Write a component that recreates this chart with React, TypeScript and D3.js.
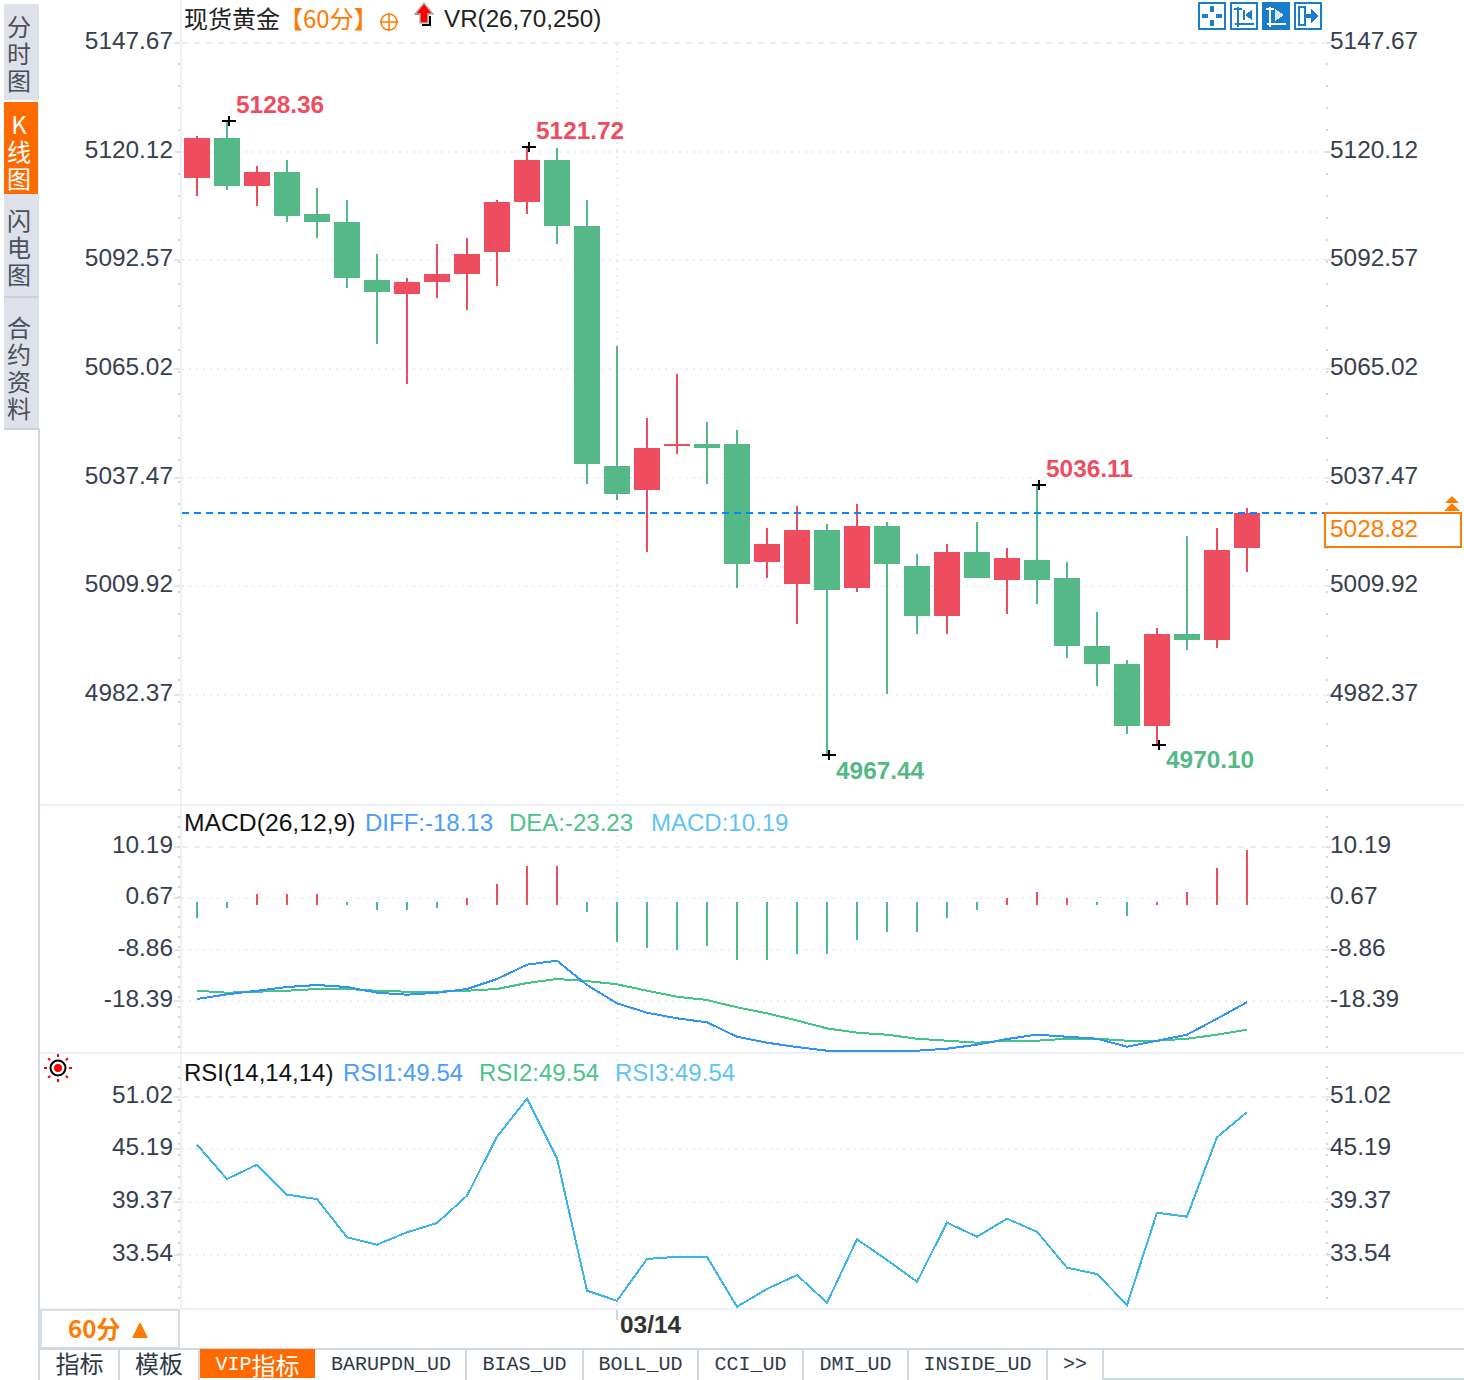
import * as React from 'react';
import * as d3 from 'd3';

const opens = [5113.82, 5123.96, 5111.79, 5115.34, 5104.69, 5102.66, 5087.96, 5084.41, 5087.45, 5089.48, 5095.06, 5107.73, 5118.38, 5101.65, 5040.8, 5034.71, 5045.87, 5046.37, 5046.37, 5016.45, 5010.88, 5024.57, 5009.86, 5025.58, 5015.44, 5002.76, 5018.99, 5011.89, 5016.96, 5012.4, 4995.16, 4990.59, 4974.87, 4998.2, 4996.68, 5020.0];
const closes = [5123.96, 5111.79, 5115.34, 5104.18, 5102.66, 5088.46, 5084.91, 5087.45, 5089.48, 5094.55, 5107.73, 5118.38, 5101.65, 5041.3, 5033.7, 5045.36, 5046.37, 5045.36, 5015.95, 5021.02, 5024.57, 5009.36, 5025.58, 5015.95, 5002.76, 5018.99, 5012.4, 5017.47, 5011.89, 4995.16, 4990.59, 4974.87, 4998.2, 4996.68, 5019.5, 5028.82];
const highs = [5124.47, 5128.36, 5116.86, 5118.38, 5111.28, 5108.24, 5094.55, 5088.46, 5097.08, 5098.61, 5108.24, 5121.72, 5121.42, 5108.24, 5071.22, 5052.97, 5064.12, 5051.95, 5049.92, 5025.08, 5030.65, 5026.09, 5031.16, 5026.6, 5018.48, 5021.02, 5026.6, 5020.0, 5036.11, 5016.45, 5003.78, 4991.61, 4999.72, 5023.05, 5025.08, 5030.15];
const lows = [5109.25, 5110.78, 5106.72, 5102.66, 5098.61, 5085.93, 5071.73, 5061.59, 5083.39, 5080.35, 5086.43, 5104.69, 5097.08, 5036.23, 5032.17, 5018.99, 5043.84, 5036.23, 5009.86, 5012.4, 5000.73, 4967.44, 5008.85, 4982.99, 4998.2, 4998.2, 5012.4, 5003.27, 5005.81, 4992.11, 4985.01, 4972.84, 4970.1, 4994.14, 4994.65, 5013.92];

const macdBars = [-2.51, -0.65, 1.95, 1.95, 1.95, -0.05, -1.02, -1.02, -0.65, 1.21, 3.8, 7.15, 7.15, -1.39, -6.96, -8.07, -8.44, -7.7, -10.3, -10.3, -9.19, -9.19, -6.59, -5.1, -5.1, -2.51, -1.02, 1.21, 2.32, 1.21, -0.05, -2.13, 0.46, 2.32, 6.77, 10.19];
const diffLine = [-17.54, -16.67, -16.0, -15.31, -14.94, -15.31, -16.37, -16.74, -16.37, -15.68, -13.83, -11.17, -10.43, -14.94, -18.34, -20.08, -21.12, -21.86, -24.54, -25.65, -26.45, -27.13, -27.13, -27.13, -27.13, -26.76, -26.02, -24.96, -24.16, -24.54, -24.91, -26.39, -25.28, -24.16, -21.2, -18.13];
const deaLine = [-16.0, -16.37, -16.18, -16.0, -15.68, -15.68, -16.0, -16.18, -16.18, -16.0, -15.68, -14.57, -13.83, -14.2, -14.81, -16.0, -17.11, -17.72, -19.08, -20.19, -21.53, -23.0, -23.79, -24.16, -24.91, -25.28, -25.65, -25.28, -25.28, -24.91, -24.91, -25.28, -25.28, -24.91, -24.16, -23.23];
const rsiLine = [45.94, 42.15, 43.73, 40.42, 39.94, 35.72, 34.9, 36.27, 37.29, 40.31, 46.82, 51.02, 44.44, 29.82, 28.71, 33.32, 33.57, 33.57, 28.05, 30.01, 31.55, 28.49, 35.49, 33.21, 30.81, 37.33, 35.78, 37.77, 36.33, 32.36, 31.66, 28.24, 38.43, 37.99, 46.76, 49.54];

const priceTicks = [5147.67, 5120.12, 5092.57, 5065.02, 5037.47, 5009.92, 4982.37];
const macdTicks = [10.19, 0.67, -8.86, -18.39];
const rsiTicks = [51.02, 45.19, 39.37, 33.54];
const lastPrice = 5028.82;
const extremes = [
  { index: 1, value: 5128.36, kind: 'high' },
  { index: 11, value: 5121.72, kind: 'high' },
  { index: 28, value: 5036.11, kind: 'high' },
  { index: 21, value: 4967.44, kind: 'low' },
  { index: 32, value: 4970.1, kind: 'low' },
];
const sideTabs = [
  { label: '分时图', top: 4, bottom: 100, textTop: 15 },
  { label: 'K线图', top: 102, bottom: 194, textTop: 113, active: true },
  { label: '闪电图', top: 194, bottom: 296, textTop: 209 },
  { label: '合约资料', top: 298, bottom: 428, textTop: 316 },
];
const bottomTabs = [
  { label: '指标', left: 40, right: 119 },
  { label: '模板', left: 119, right: 199 },
  { label: 'VIP', extra: '指标', left: 200, right: 315, active: true },
  { label: 'BARUPDN_UD', left: 316, right: 466 },
  { label: 'BIAS_UD', left: 466, right: 583 },
  { label: 'BOLL_UD', left: 583, right: 698 },
  { label: 'CCI_UD', left: 698, right: 803 },
  { label: 'DMI_UD', left: 803, right: 908 },
  { label: 'INSIDE_UD', left: 908, right: 1047 },
  { label: '>>', left: 1047, right: 1103 },
];

const RED = '#ed4d5f';
const GREEN = '#54b987';
const ORANGE = '#ff7a00';
const ICON = '#1a7dcc';
const GRID = '#eceff2';
const FRAME = '#edf1f5';
const BORDER = '#cfd8e0';
const LABEL = '#36404f';
const SANS = '"Liberation Sans", Arial, sans-serif';
const CJK = '"Noto Sans CJK SC", sans-serif';
const MONO = '"Liberation Mono", monospace';
const TEXT_SIZE = 24.4;
const LEGEND_SIZE = 24;

const x = d3.scalePoint<number>().domain(d3.range(opens.length)).range([197, 1247]);
const priceY = d3.scaleLinear().domain([5147.67, 4982.37]).range([44.5, 696.5]);
const macdY = d3.scaleLinear().domain([10.19, -18.39]).range([849.6, 1003.6]);
const rsiY = d3.scaleLinear().domain([51.02, 33.54]).range([1098.7, 1257]);

function seriesPath(values: number[], y: (v: number) => number) {
  return d3.line<number>().x((_, i) => x(i) as number).y((d) => y(d))(values) as string;
}

function AxisRows({ ticks, y, shift, dots }: { ticks: number[]; y: (v: number) => number; shift: number; dots: number[] }) {
  return (
    <g>
      {dots.map((d) => (
        <g key={d} fill="#d3d9e0">
          <rect x={178} y={d} width={2} height={2} />
          <rect x={1326} y={d} width={2} height={2} />
        </g>
      ))}
      {ticks.map((t, i) => {
        const gy = Math.round(y(t) - shift);
        return (
          <g key={t}>
            <line x1={182} x2={1325} y1={gy} y2={gy} stroke={GRID} strokeWidth={2} strokeDasharray={i === 0 ? '6 6' : '2 5'} />
            <line x1={174} x2={180} y1={gy} y2={gy} stroke="#d9dde2" strokeWidth={1.5} />
            <line x1={1326} x2={1331} y1={gy} y2={gy} stroke="#d9dde2" strokeWidth={1.5} />
            <text x={173} y={gy - 3} textAnchor="end" dominantBaseline="central" fontSize={TEXT_SIZE} fill={LABEL}>{t.toFixed(2)}</text>
            <text x={1330} y={gy - 3} dominantBaseline="central" fontSize={TEXT_SIZE} fill={LABEL}>{t.toFixed(2)}</text>
          </g>
        );
      })}
    </g>
  );
}

function Candles() {
  return (
    <g shapeRendering="crispEdges">
      {opens.map((o, i) => {
        const c = closes[i];
        const up = c >= o;
        const color = up ? RED : GREEN;
        const cx = x(i) as number;
        const top = priceY(Math.max(o, c));
        const bottom = priceY(Math.min(o, c));
        return (
          <g key={i} fill={color}>
            <rect x={cx - 1} y={priceY(highs[i])} width={2} height={priceY(lows[i]) - priceY(highs[i])} />
            <rect x={cx - 13} y={top} width={26} height={Math.max(2, bottom - top)} />
          </g>
        );
      })}
    </g>
  );
}

function Extremes() {
  return (
    <g>
      {extremes.map((e) => {
        const cx = x(e.index) as number;
        const cy = priceY(e.value);
        const high = e.kind === 'high';
        return (
          <g key={e.index}>
            <g stroke="#000" strokeWidth={2} shapeRendering="crispEdges">
              <line x1={cx - 5} x2={cx + 9} y1={cy} y2={cy} />
              <line x1={cx + 2} x2={cx + 2} y1={cy - 5} y2={cy + 5} />
            </g>
            <text x={cx + 9} y={cy + (high ? -16 : 15)} dominantBaseline="central" fontSize={TEXT_SIZE} fontWeight="bold" fill={high ? RED : GREEN}>
              {e.value.toFixed(2)}
            </text>
          </g>
        );
      })}
    </g>
  );
}

function MacdPane() {
  const zero = macdY(0);
  return (
    <g>
      <g shapeRendering="crispEdges">
        {macdBars.map((v, i) => {
          const cx = x(i) as number;
          const y = macdY(v);
          return v >= 0
            ? <rect key={i} x={cx - 1} y={y} width={2} height={zero - y} fill={RED} />
            : <rect key={i} x={cx - 1} y={zero - 2.5} width={2} height={y - zero + 2.5} fill="#4dbb85" />;
        })}
      </g>
      <path d={seriesPath(deaLine, macdY)} fill="none" stroke="#45c488" strokeWidth={2} shapeRendering="crispEdges" />
      <path d={seriesPath(diffLine, macdY)} fill="none" stroke="#3193f5" strokeWidth={2} shapeRendering="crispEdges" />
    </g>
  );
}

function SideTabs() {
  return (
    <g>
      {sideTabs.map((t) => (
        <g key={t.top}>
          <rect x={4} y={t.top} width={t.active ? 34 : 35} height={t.bottom - t.top} fill={t.active ? '#ff6a00' : '#dfe1ea'} />
          <text x={19} y={t.textTop} dominantBaseline="central" fontSize={24} fontFamily={CJK} fill={t.active ? '#fff' : '#4a5058'}
            style={{ writingMode: 'vertical-rl', textOrientation: 'upright', letterSpacing: 3 }}>{t.label}</text>
        </g>
      ))}
      <rect x={4} y={296} width={35} height={2} fill="#cdd1d9" />
      <rect x={4} y={428} width={35} height={2} fill="#cdd1d9" />
    </g>
  );
}

function ToolIcons() {
  return (
    <g shapeRendering="crispEdges">
      <g transform="translate(1198,2)">
        <rect x={1} y={1} width={26} height={26} fill="#fff" stroke={ICON} strokeWidth={2} />
        <path d="M12 4h4v6h-4zM12 18h4v6h-4zM4 12h6v4H4zM18 12h6v4h-6z" fill={ICON} />
      </g>
      <g transform="translate(1230,2)">
        <rect x={1} y={1} width={26} height={26} fill="#fff" stroke={ICON} strokeWidth={2} />
        <path d="M5 21h19v2H5zM7 5h2v20H7zM4 6h8v2H4zM13 8h2v10h-2z" fill={ICON} />
        <path d="M15 13l7-5v10z" fill={ICON} />
      </g>
      <g transform="translate(1262,2)">
        <rect x={0} y={0} width={28} height={28} fill={ICON} />
        <path d="M5 21h19v2H5zM7 5h2v20H7zM4 6h8v2H4z" fill="#fff" />
        <path d="M13 7l9 6-9 6z" fill="#d6e9f7" />
      </g>
      <g transform="translate(1294,2)">
        <rect x={1} y={1} width={26} height={26} fill="#fff" stroke={ICON} strokeWidth={2} />
        <path d="M5 5h6v18H5z" fill="none" stroke={ICON} strokeWidth={2} />
        <path d="M11 12h7v4h-7z" fill={ICON} />
        <path d="M17 7l7 7-7 7z" fill={ICON} />
      </g>
    </g>
  );
}

function SunIcon() {
  return (
    <g transform="translate(58,1068)">
      {d3.range(8).map((i) => (
        <line key={i} x1={0} x2={0} y1={-11} y2={-14} stroke="#f00" strokeWidth={2} transform={`rotate(${i * 45})`} />
      ))}
      <circle r={7.5} fill="#fff" stroke="#000" strokeWidth={2} />
      <circle r={4} fill="#f00" />
    </g>
  );
}

export default function App() {
  const lastY = Math.round(priceY(lastPrice));
  return (
    <svg width={1464} height={1380} viewBox="0 0 1464 1380" fontFamily={SANS} style={{ position: 'absolute', left: 0, top: 0, background: '#fff' }}>
      <SideTabs />

      {/* frame */}
      <rect x={38} y={428} width={2} height={952} fill={BORDER} />
      <rect x={180} y={0} width={2} height={1309} fill={FRAME} />
      <rect x={40} y={804} width={1424} height={2} fill={FRAME} />
      <rect x={40} y={1052} width={1424} height={2} fill={FRAME} />
      <rect x={40} y={1308} width={1424} height={2} fill={FRAME} />
      <line x1={617} x2={617} y1={44} y2={1308} stroke={GRID} strokeWidth={2} strokeDasharray="2 5" />
      <line x1={617} x2={617} y1={1310} y2={1320} stroke={BORDER} strokeWidth={2} />

      <AxisRows ticks={priceTicks} y={priceY} shift={1.5} dots={d3.range(63, 790, 22)} />
      <AxisRows ticks={macdTicks} y={macdY} shift={2.7} dots={d3.range(816, 1048, 10)} />
      <AxisRows ticks={rsiTicks} y={rsiY} shift={2} dots={d3.range(1066, 1306, 11)} />

      <Candles />
      <line x1={182} x2={1324} y1={lastY} y2={lastY} stroke="#0a84ff" strokeWidth={2} strokeDasharray="7 5" shapeRendering="crispEdges" />
      <Extremes />
      <MacdPane />
      <path d={seriesPath(rsiLine, rsiY)} fill="none" stroke="#3bb5ea" strokeWidth={2} shapeRendering="crispEdges" />

      {/* last price tag */}
      <rect x={1325} y={lastY} width={136} height={34} fill="#fff" stroke={ORANGE} strokeWidth={2} />
      <text x={1330} y={lastY + 15} dominantBaseline="central" fontSize={TEXT_SIZE} fill={ORANGE}>{lastPrice.toFixed(2)}</text>
      <path d="M1452 496l7 7h-14zM1452 503l8 8h-16z" fill={ORANGE} />

      {/* headers */}
      <text x={184} y={17.5} dominantBaseline="central" fontSize={24} fontFamily={CJK} fill="#222">现货黄金</text>
      <text x={279} y={17.5} dominantBaseline="central" fontSize={24} fontFamily={CJK} fill={ORANGE}>【60分】</text>
      <g stroke={ORANGE} strokeWidth={1.5} fill="none">
        <circle cx={389} cy={22} r={8} />
        <path d="M380 22h18M389 13v18" />
      </g>
      <path d="M415 14h6M422 25h9M430 16v9" stroke="#000" strokeWidth={2} fill="none" />
      <path d="M424 3l9 11h-5v9h-8v-9h-5z" fill="#f00" stroke="#b5b5b5" strokeWidth={1.5} />
      <text x={444} y={18} dominantBaseline="central" fontSize={24.2} fill="#222">VR(26,70,250)</text>
      <ToolIcons />

      <text x={184} y={822} dominantBaseline="central" fontSize={24.7} fill="#111">MACD(26,12,9)</text>
      <text x={365} y={822} dominantBaseline="central" fontSize={LEGEND_SIZE} fill="#4a9cff">DIFF:-18.13</text>
      <text x={509} y={822} dominantBaseline="central" fontSize={LEGEND_SIZE} fill="#4cc38a">DEA:-23.23</text>
      <text x={651} y={822} dominantBaseline="central" fontSize={LEGEND_SIZE} fill="#5ec4f5">MACD:10.19</text>

      <SunIcon />
      <text x={184} y={1072} dominantBaseline="central" fontSize={LEGEND_SIZE} fill="#111">RSI(14,14,14)</text>
      <text x={343} y={1072} dominantBaseline="central" fontSize={LEGEND_SIZE} fill="#4a9cff">RSI1:49.54</text>
      <text x={479} y={1072} dominantBaseline="central" fontSize={LEGEND_SIZE} fill="#4cc38a">RSI2:49.54</text>
      <text x={615} y={1072} dominantBaseline="central" fontSize={LEGEND_SIZE} fill="#5ec4f5">RSI3:49.54</text>

      {/* period selector and date */}
      <rect x={41} y={1310} width={138} height={38} fill="#fff" stroke="#d6dde3" strokeWidth={2} />
      <text x={68} y={1327} dominantBaseline="central" fontSize={24} fontWeight="bold" fontFamily={CJK} fill={ORANGE}>60分</text>
      <path d="M140 1322l8 16h-16z" fill={ORANGE} />
      <text x={620} y={1324} dominantBaseline="central" fontSize={TEXT_SIZE} fontWeight="bold" fill="#333">03/14</text>

      {/* indicator tabs */}
      <rect x={40} y={1348} width={1424} height={2} fill={BORDER} />
      <rect x={1103} y={1378} width={361} height={2} fill={BORDER} />
      {bottomTabs.map((t) => {
        const latin = /^[A-Z>]/.test(t.label);
        return (
          <g key={t.label}>
            {t.active && <rect x={t.left} y={1349} width={t.right - t.left} height={29} fill="#ff6a00" />}
            {!t.active && <rect x={t.right - 1} y={1349} width={2} height={31} fill={BORDER} />}
            <text x={(t.left + t.right) / 2} y={latin ? 1364 : 1362} textAnchor="middle" dominantBaseline="central"
              fontSize={latin ? 20 : 24} fontFamily={latin ? MONO : CJK} fill={t.active ? '#fff' : '#2f3a48'}>
              {t.label}
              {t.extra && <tspan fontFamily={CJK} fontSize={24}>{t.extra}</tspan>}
            </text>
          </g>
        );
      })}
    </svg>
  );
}
